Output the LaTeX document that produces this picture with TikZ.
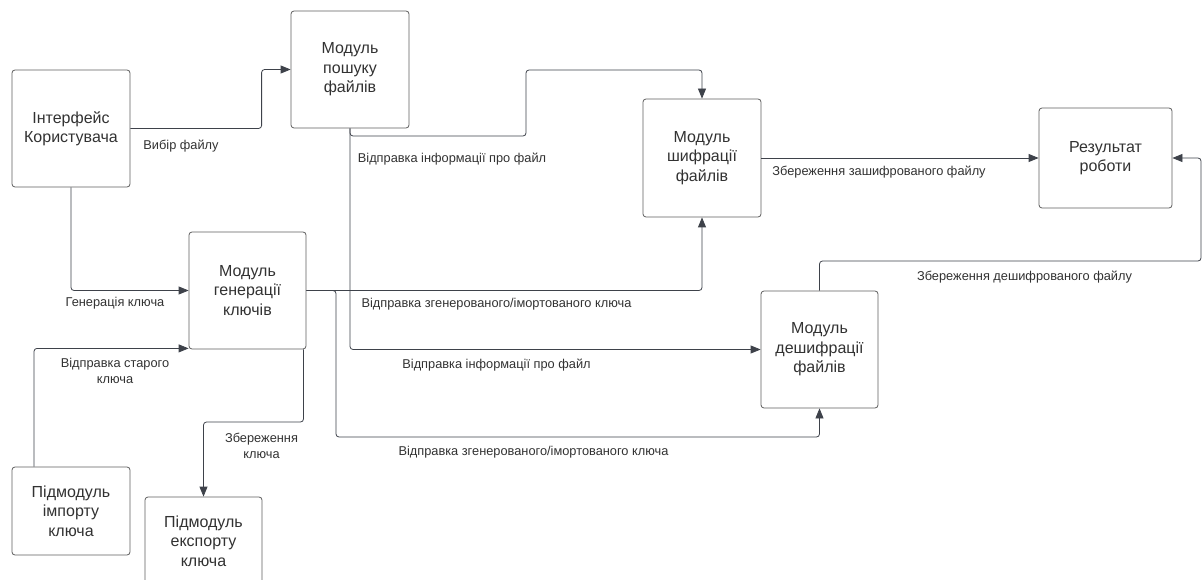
\documentclass[tikz,border=0pt]{standalone}
\usepackage{fontspec}
\setmainfont{Liberation Sans}
\usetikzlibrary{arrows.meta}
\definecolor{boxline}{RGB}{94,94,94}
\definecolor{connline}{RGB}{62,66,74}
\definecolor{txt}{RGB}{50,50,50}
\tikzset{
  blk/.style={draw=boxline, line width=0.8pt, rounded corners=3pt, fill=white,
    text=txt, align=center, inner sep=0pt,
    font=\fontsize{16}{19.5}\selectfont},
  conn/.style={draw=connline, line width=0.8pt, rounded corners=3pt,
    -{Triangle[length=10pt,width=8pt]}},
  lbl/.style={text=txt, align=center, inner sep=0pt,
    font=\fontsize{12.8}{15.5}\selectfont}
}
\begin{document}
\begin{tikzpicture}[x=1pt,y=-1pt]
\useasboundingbox (0,0) rectangle (1203,580);
\clip (0,0) rectangle (1203,580);
\fill[white] (0,0) rectangle (1203,580);
% boxes
\node[blk, minimum width=118pt, minimum height=117pt] (iface) at (71,128.5) {Інтерфейс\\Користувача};
\node[blk, minimum width=118pt, minimum height=117pt] (search) at (350,69.5) {Модуль\\пошуку\\файлів};
\node[blk, minimum width=118pt, minimum height=118pt] (enc) at (702,158) {Модуль\\шифрації\\файлів};
\node[blk, minimum width=133pt, minimum height=100pt] (result) at (1105.5,158) {Результат\\роботи};
\node[blk, minimum width=117pt, minimum height=117pt] (gen) at (247.5,290.5) {Модуль\\генерації\\ключів};
\node[blk, minimum width=117pt, minimum height=117pt] (dec) at (819.5,349.5) {Модуль\\дешифрації\\файлів};
\node[blk, minimum width=118pt, minimum height=88pt] (imp) at (71,511) {Підмодуль\\імпорту\\ключа};
\node[blk, minimum width=117pt, minimum height=88pt] (exp) at (203.5,541) {Підмодуль\\експорту\\ключа};
% connectors
\draw[conn] (iface.east) -| ([xshift=-29pt]search.west) -- (search.west);
\draw[conn] (iface.south) |- (gen.west);
\draw[conn] ([xshift=-37pt]imp.north) |- ([yshift=1pt]gen.south west);
\draw[conn] (search.south) -- (350,136) -- (526,136) -- (526,70) -| (enc.north);
\draw[conn] (search.south) |- (dec.west);
\draw[conn] (gen.east) -| (enc.south);
\draw[conn] (gen.east) -| (336,437) -| (dec.south);
\draw[conn] ([xshift=56pt]gen.south) -- (303.5,422) -| (exp.north);
\draw[conn] (enc.east) -- (result.west);
\draw[conn] (dec.north) |- (1201,261) |- (result.east);
% labels
\node[lbl] (l1) at (181,146) {Вибір файлу};
\node[lbl] (l2) at (115,303) {Генерація ключа};
\node[lbl] (l3) at (115,371) {Відправка старого\\ключа};
\node[lbl] (l4) at (261.5,446) {Збереження\\ключа};
\node[lbl] (l5) at (452,159) {Відправка інформації про файл};
\node[lbl] (l6) at (496.5,304) {Відправка згенерованого/імортованого ключа};
\node[lbl] (l7) at (496.5,365) {Відправка інформації про файл};
\node[lbl] (l8) at (533.5,452) {Відправка згенерованого/імортованого ключа};
\node[lbl] (l9) at (879,172) {Збереження зашифрованого файлу};
\node[lbl] (l10) at (1024.5,277) {Збереження дешифрованого файлу};
\end{tikzpicture}
\end{document}
